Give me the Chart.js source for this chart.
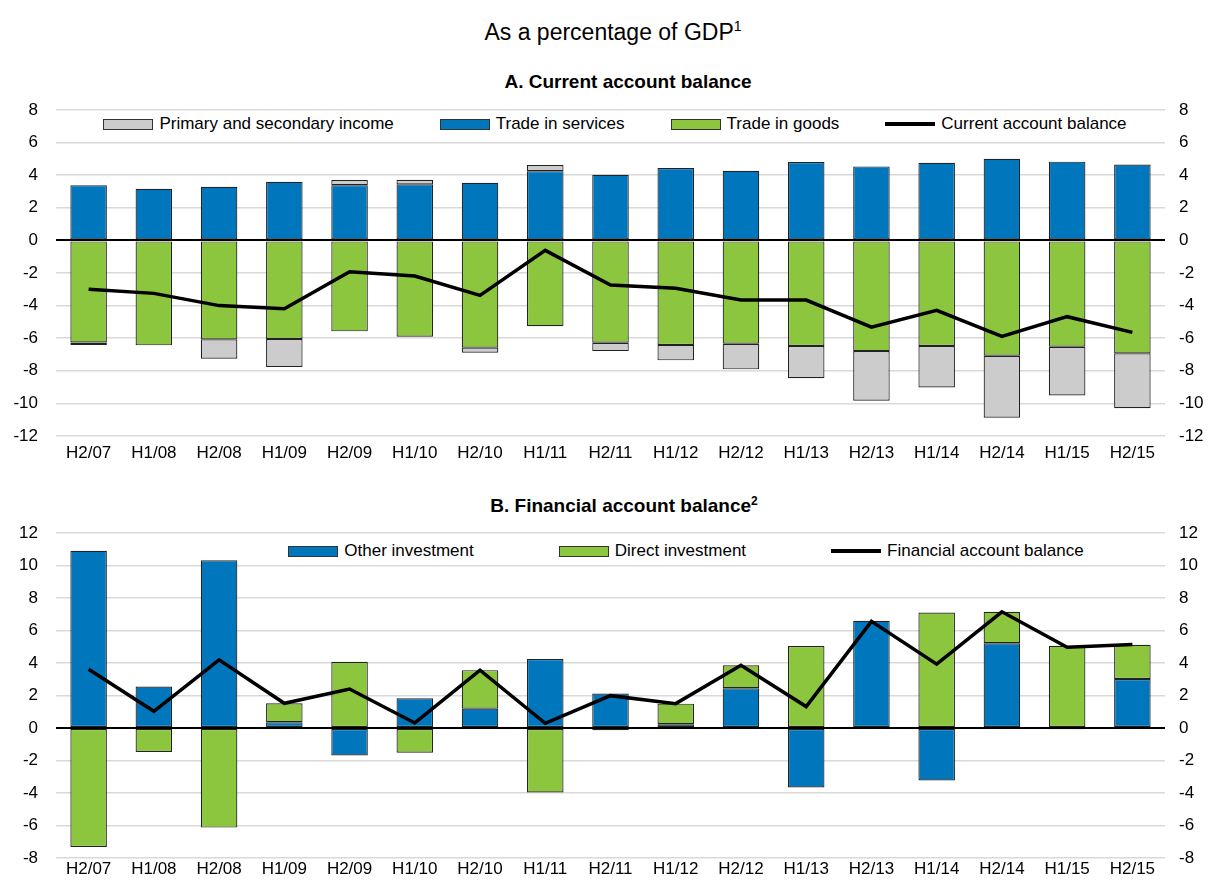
<!DOCTYPE html>
<html>
<head>
<meta charset="utf-8">
<script src="https://cdn.jsdelivr.net/npm/chart.js@4.4.1/dist/chart.umd.min.js"></script>
<style>
  body { margin: 0; background: #fff; }
  #page { position: relative; width: 1209px; height: 882px; font-family: 'Liberation Sans', Arial, sans-serif; color: #000; overflow: hidden; }
  .main-title { position: absolute; left: 0; width: 1226px; top: 19px; text-align: center; font-size: 23px; line-height: 26px; }
  .main-title sup { font-size: 14px; vertical-align: 9px; line-height: 0; }
  .panel-title { position: absolute; text-align: center; font-weight: bold; font-size: 19px; line-height: 22px; }
  .panel-title sup { font-size: 12px; vertical-align: 7px; line-height: 0; }
  .legend { position: absolute; display: flex; justify-content: center; align-items: center; font-size: 17px; line-height: 22px; white-space: nowrap; }
  .legend-item { display: flex; align-items: center; }
  .legend-box { width: 48px; height: 9px; border: 1px solid #333; margin-right: 6px; }
  .legend-line { width: 50px; height: 4px; background: #000; margin-right: 6px; }
  .chart-wrap { position: absolute; left: 0; width: 1209px; }
</style>
</head>
<body>
<div id="page">
  <div class="main-title">As a percentage of GDP<sup>1</sup></div>

  <div class="panel-title" style="left: 428px; width: 400px; top: 71px;">A. Current account balance</div>
  <div class="legend" id="legendA" style="left: 115px; width: 1000px; top: 113px; gap: 46px;"></div>
  <div class="chart-wrap" style="top: 90px; height: 380px;"><canvas id="chartA"></canvas></div>

  <div class="panel-title" style="left: 424px; width: 400px; top: 495px;">B. Financial account balance<sup>2</sup></div>
  <div class="legend" id="legendB" style="left: 186px; width: 1000px; top: 540px; gap: 85px;"></div>
  <div class="chart-wrap" style="top: 513px; height: 369px;"><canvas id="chartB"></canvas></div>
</div>

<script>
const categories = ['H2/07', 'H1/08', 'H2/08', 'H1/09', 'H2/09', 'H1/10', 'H2/10', 'H1/11', 'H2/11',
  'H1/12', 'H2/12', 'H1/13', 'H2/13', 'H1/14', 'H2/14', 'H1/15', 'H2/15'];

// Panel A
const tradeInServices = [3.39, 3.17, 3.29, 3.60, 3.39, 3.44, 3.54, 4.25, 4.03, 4.44, 4.27, 4.81, 4.54, 4.76, 5.01, 4.83, 4.66];
const tradeInGoods = [-6.26, -6.44, -6.07, -6.05, -5.58, -5.91, -6.58, -5.26, -6.28, -6.42, -6.34, -6.48, -6.79, -6.48, -7.08, -6.52, -6.93];
const primarySecondaryIncome = [-0.16, 0, -1.19, -1.72, 0.31, 0.28, -0.31, 0.37, -0.51, -0.94, -1.57, -1.97, -3.05, -2.54, -3.80, -2.99, -3.36];
const currentAccountBalance = [-3.00, -3.25, -4.00, -4.19, -1.92, -2.19, -3.37, -0.61, -2.74, -2.94, -3.66, -3.66, -5.32, -4.29, -5.89, -4.68, -5.64];

// Panel B
const otherInvestment = [10.91, 2.55, 10.32, 0.35, -1.69, 1.83, 1.19, 4.25, 2.12, 0.23, 2.45, -3.66, 6.60, -3.23, 5.22, -0.08, 3.02];
const directInvestment = [-7.32, -1.48, -6.13, 1.17, 4.07, -1.52, 2.37, -3.97, -0.14, 1.27, 1.41, 5.04, -0.05, 7.11, 1.93, 5.06, 2.10];
const financialAccountBalance = [3.62, 1.03, 4.19, 1.52, 2.40, 0.31, 3.56, 0.29, 1.99, 1.50, 3.86, 1.32, 6.56, 3.93, 7.15, 4.97, 5.14];

const ticksA = { min: -12, max: 8, step: 2 };
const ticksB = { min: -8, max: 12, step: 2 };

const BLUE = '#0077bd';
const GREEN = '#8cc63f';
const GREY = '#cccccc';
const tickFont = { family: "'Liberation Sans', Arial, sans-serif", size: 17 };

function barDataset(label, data, color) {
  return {
    type: 'bar',
    label: label,
    data: data,
    backgroundColor: color,
    borderColor: '#222',
    borderWidth: 1.2,
    borderSkipped: false,
    barPercentage: 0.56,
    categoryPercentage: 1,
    order: 1,
  };
}

function lineDataset(label, data) {
  return {
    type: 'line',
    label: label,
    data: data,
    borderColor: '#000',
    borderWidth: 3.5,
    pointRadius: 0,
    tension: 0,
    fill: false,
    order: 0,
  };
}

// keep the label overhang from pushing the plot area in
function fixVertical(width) {
  return (scale) => {
    scale.width = width;
    scale.paddingTop = 10;
    scale.paddingBottom = 10;
  };
}

function buildOptions(range, labelPadding, xHeight) {
  const gridColor = (ctx) => (ctx.tick && ctx.tick.value === 0 ? '#000' : '#d9d9d9');
  const gridWidth = (ctx) => (ctx.tick && ctx.tick.value === 0 ? 2 : 1.6);
  return {
    responsive: true,
    maintainAspectRatio: false,
    animation: false,
    layout: { padding: { top: 20, left: 0, right: 0, bottom: 0 } },
    plugins: { legend: { display: false }, tooltip: { enabled: false } },
    scales: {
      x: {
        stacked: true,
        grid: { display: false, drawTicks: false },
        border: { display: false },
        ticks: { font: tickFont, color: '#000', padding: labelPadding, maxRotation: 0, autoSkip: false },
        afterFit: (scale) => { scale.height = xHeight; },
      },
      y: {
        stacked: true,
        position: 'left',
        min: range.min,
        max: range.max,
        grid: { color: gridColor, lineWidth: gridWidth, drawTicks: false },
        border: { display: false },
        ticks: { stepSize: range.step, font: tickFont, color: '#000', padding: 18 },
        afterFit: fixVertical(56),
      },
      y2: {
        position: 'right',
        min: range.min,
        max: range.max,
        grid: { display: false, drawTicks: false },
        border: { display: false },
        ticks: { stepSize: range.step, font: tickFont, color: '#000', padding: 14 },
        afterFit: fixVertical(44),
      },
    },
  };
}

function buildLegend(containerId, items) {
  const container = document.getElementById(containerId);
  items.forEach((item) => {
    const entry = document.createElement('div');
    entry.className = 'legend-item';
    const marker = document.createElement('span');
    if (item.line) {
      marker.className = 'legend-line';
    } else {
      marker.className = 'legend-box';
      marker.style.background = item.color;
    }
    const text = document.createElement('span');
    text.textContent = item.label;
    entry.appendChild(marker);
    entry.appendChild(text);
    container.appendChild(entry);
  });
}

buildLegend('legendA', [
  { label: 'Primary and secondary income', color: GREY },
  { label: 'Trade in services', color: BLUE },
  { label: 'Trade in goods', color: GREEN },
  { label: 'Current account balance', line: true },
]);

buildLegend('legendB', [
  { label: 'Other investment', color: BLUE },
  { label: 'Direct investment', color: GREEN },
  { label: 'Financial account balance', line: true },
]);

new Chart(document.getElementById('chartA'), {
  data: {
    labels: categories,
    datasets: [
      barDataset('Trade in services', tradeInServices, BLUE),
      barDataset('Trade in goods', tradeInGoods, GREEN),
      barDataset('Primary and secondary income', primarySecondaryIncome, GREY),
      lineDataset('Current account balance', currentAccountBalance),
    ],
  },
  options: buildOptions(ticksA, 7, 34),
});

new Chart(document.getElementById('chartB'), {
  data: {
    labels: categories,
    datasets: [
      barDataset('Other investment', otherInvestment, BLUE),
      barDataset('Direct investment', directInvestment, GREEN),
      lineDataset('Financial account balance', financialAccountBalance),
    ],
  },
  options: buildOptions(ticksB, 1, 24),
});
</script>
</body>
</html>
